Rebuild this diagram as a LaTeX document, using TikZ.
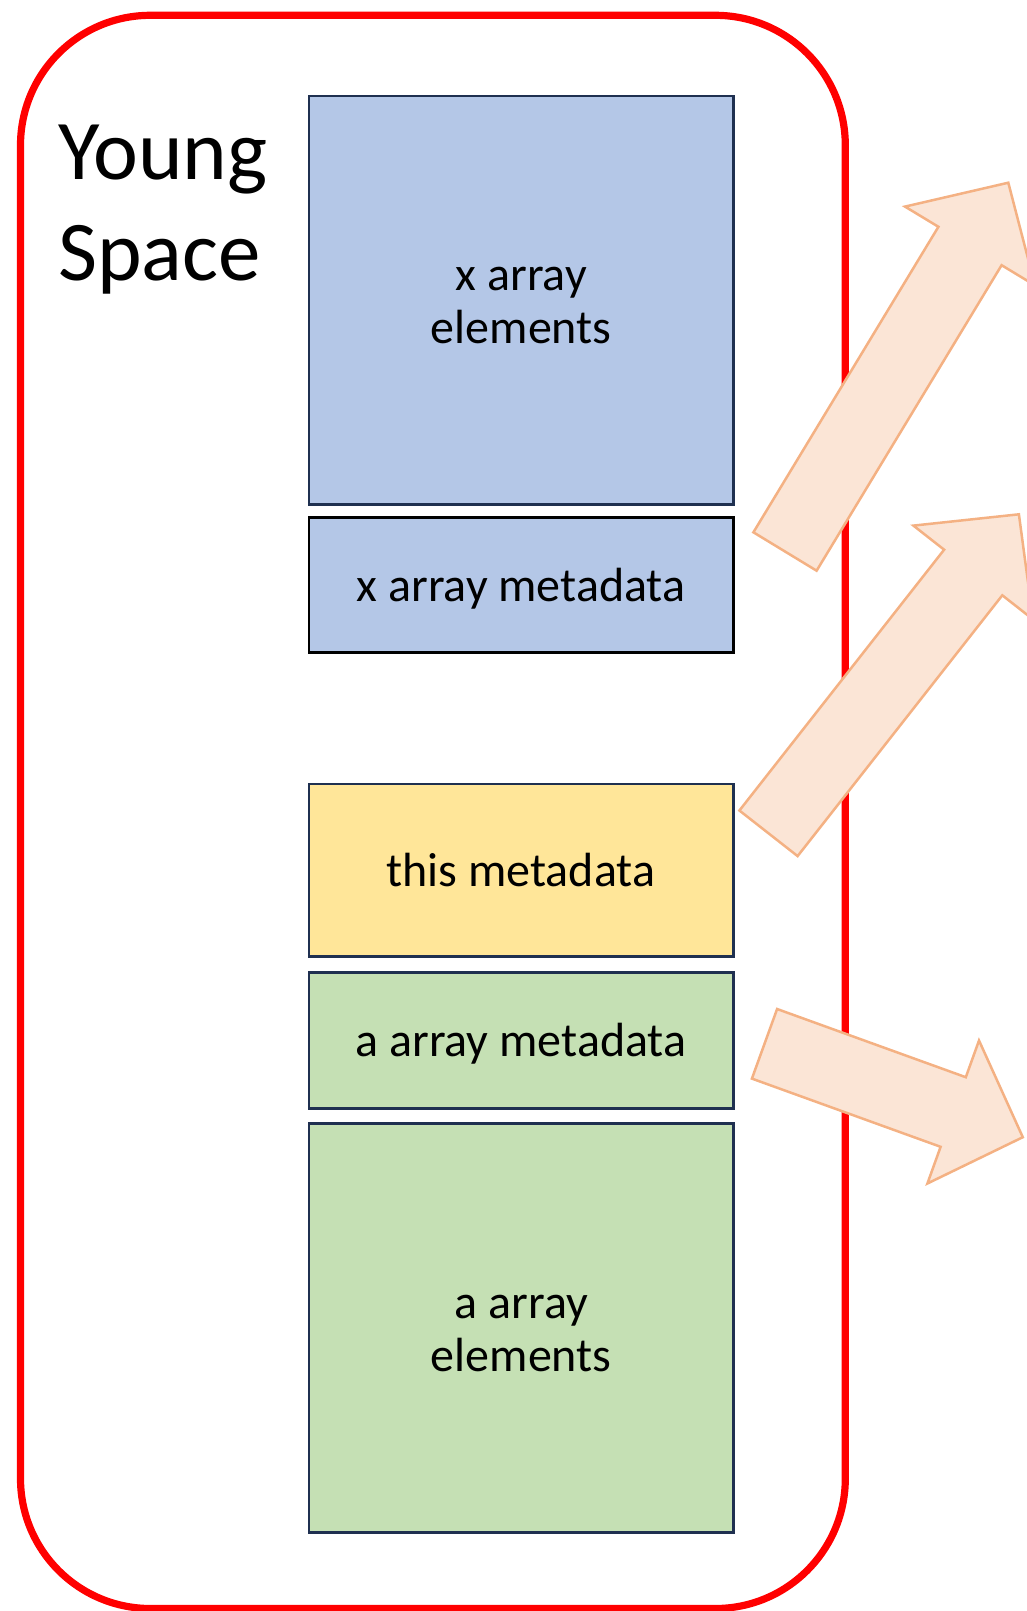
\documentclass[tikz,border=0pt]{standalone}
\usepackage{fontspec}
\setmainfont{Carlito}
\definecolor{blockblue}{HTML}{B4C7E7}
\definecolor{blockyellow}{HTML}{FFE699}
\definecolor{blockgreen}{HTML}{C5E0B4}
\definecolor{blockedge}{HTML}{1F3050}
\definecolor{arrowfill}{HTML}{FBE5D6}
\definecolor{arrowedge}{HTML}{F4B183}
\definecolor{spacered}{HTML}{FF0000}
\begin{document}
\begin{tikzpicture}[x=1pt,y=-1pt,
  memblock/.style={draw=blockedge, line width=2.6pt, inner sep=0pt, minimum width=424.3pt},
  blocktext/.style={font=\fontsize{48}{53.4}\selectfont, align=center, inner sep=0pt},
  spaceborder/.style={draw=spacered, line width=7.2pt, rounded corners=130pt},
  blockarrow/.style={fill=arrowfill, draw=arrowedge, line width=2.5pt, line join=miter},
  titletext/.style={font=\fontsize{85}{101}\selectfont, align=left, inner sep=0pt}]
\useasboundingbox (0,0) rectangle (1027,1611);
\clip (0,0) rectangle (1027,1611);

% the young-generation region
\draw[spaceborder] (20.5,15.3) rectangle (845.3,1608.5);
\node[titletext, anchor=west] (title) at (58,210) {Young\\Space};

% objects allocated in the region
\node[memblock, fill=blockblue, minimum height=408.3pt] (xel) at (521.2,300.2) {};
\node[memblock, fill=blockblue, draw=black, minimum height=135pt] (xmeta) at (521.2,584.8) {};
\node[memblock, fill=blockyellow, minimum height=172.7pt] (thismeta) at (521.2,870.4) {};
\node[memblock, fill=blockgreen, minimum height=136pt] (ameta) at (521.2,1040.3) {};
\node[memblock, fill=blockgreen, minimum height=409.4pt] (ael) at (521.2,1328) {};

\node[blocktext] (xeltext) at ([yshift=-5.5pt]xel.center) {x array\\elements};
\node[blocktext, anchor=base] (xmetatext) at (521,601.7) {x array metadata};
\node[blocktext, anchor=base] (thismetatext) at (520.8,886.7) {this metadata};
\node[blocktext, anchor=base] (ametatext) at (520.8,1056.7) {a array metadata};
\node[blocktext] (aeltext) at ([yshift=-5.5pt]ael.center) {a array\\elements};

% block arrows leaving the region
\draw[blockarrow] (753.4,532.3) -- (938.4,226.8) -- (905,206.6) -- (1008.3,182.7)
  -- (1035,285.4) -- (1001.6,265.2) -- (816.6,570.7) -- cycle;
\draw[blockarrow] (739.4,810.5) -- (944.1,549.7) -- (913.4,525.6) -- (1018.9,514.3)
  -- (1033,619.4) -- (1002.3,595.3) -- (797.6,856.1) -- cycle;
\draw[blockarrow] (777.1,1009) -- (965.8,1077.2) -- (979,1040.5) -- (1022.8,1137.2)
  -- (927.4,1183.5) -- (940.6,1146.8) -- (751.9,1078.6) -- cycle;
\end{tikzpicture}
\end{document}
